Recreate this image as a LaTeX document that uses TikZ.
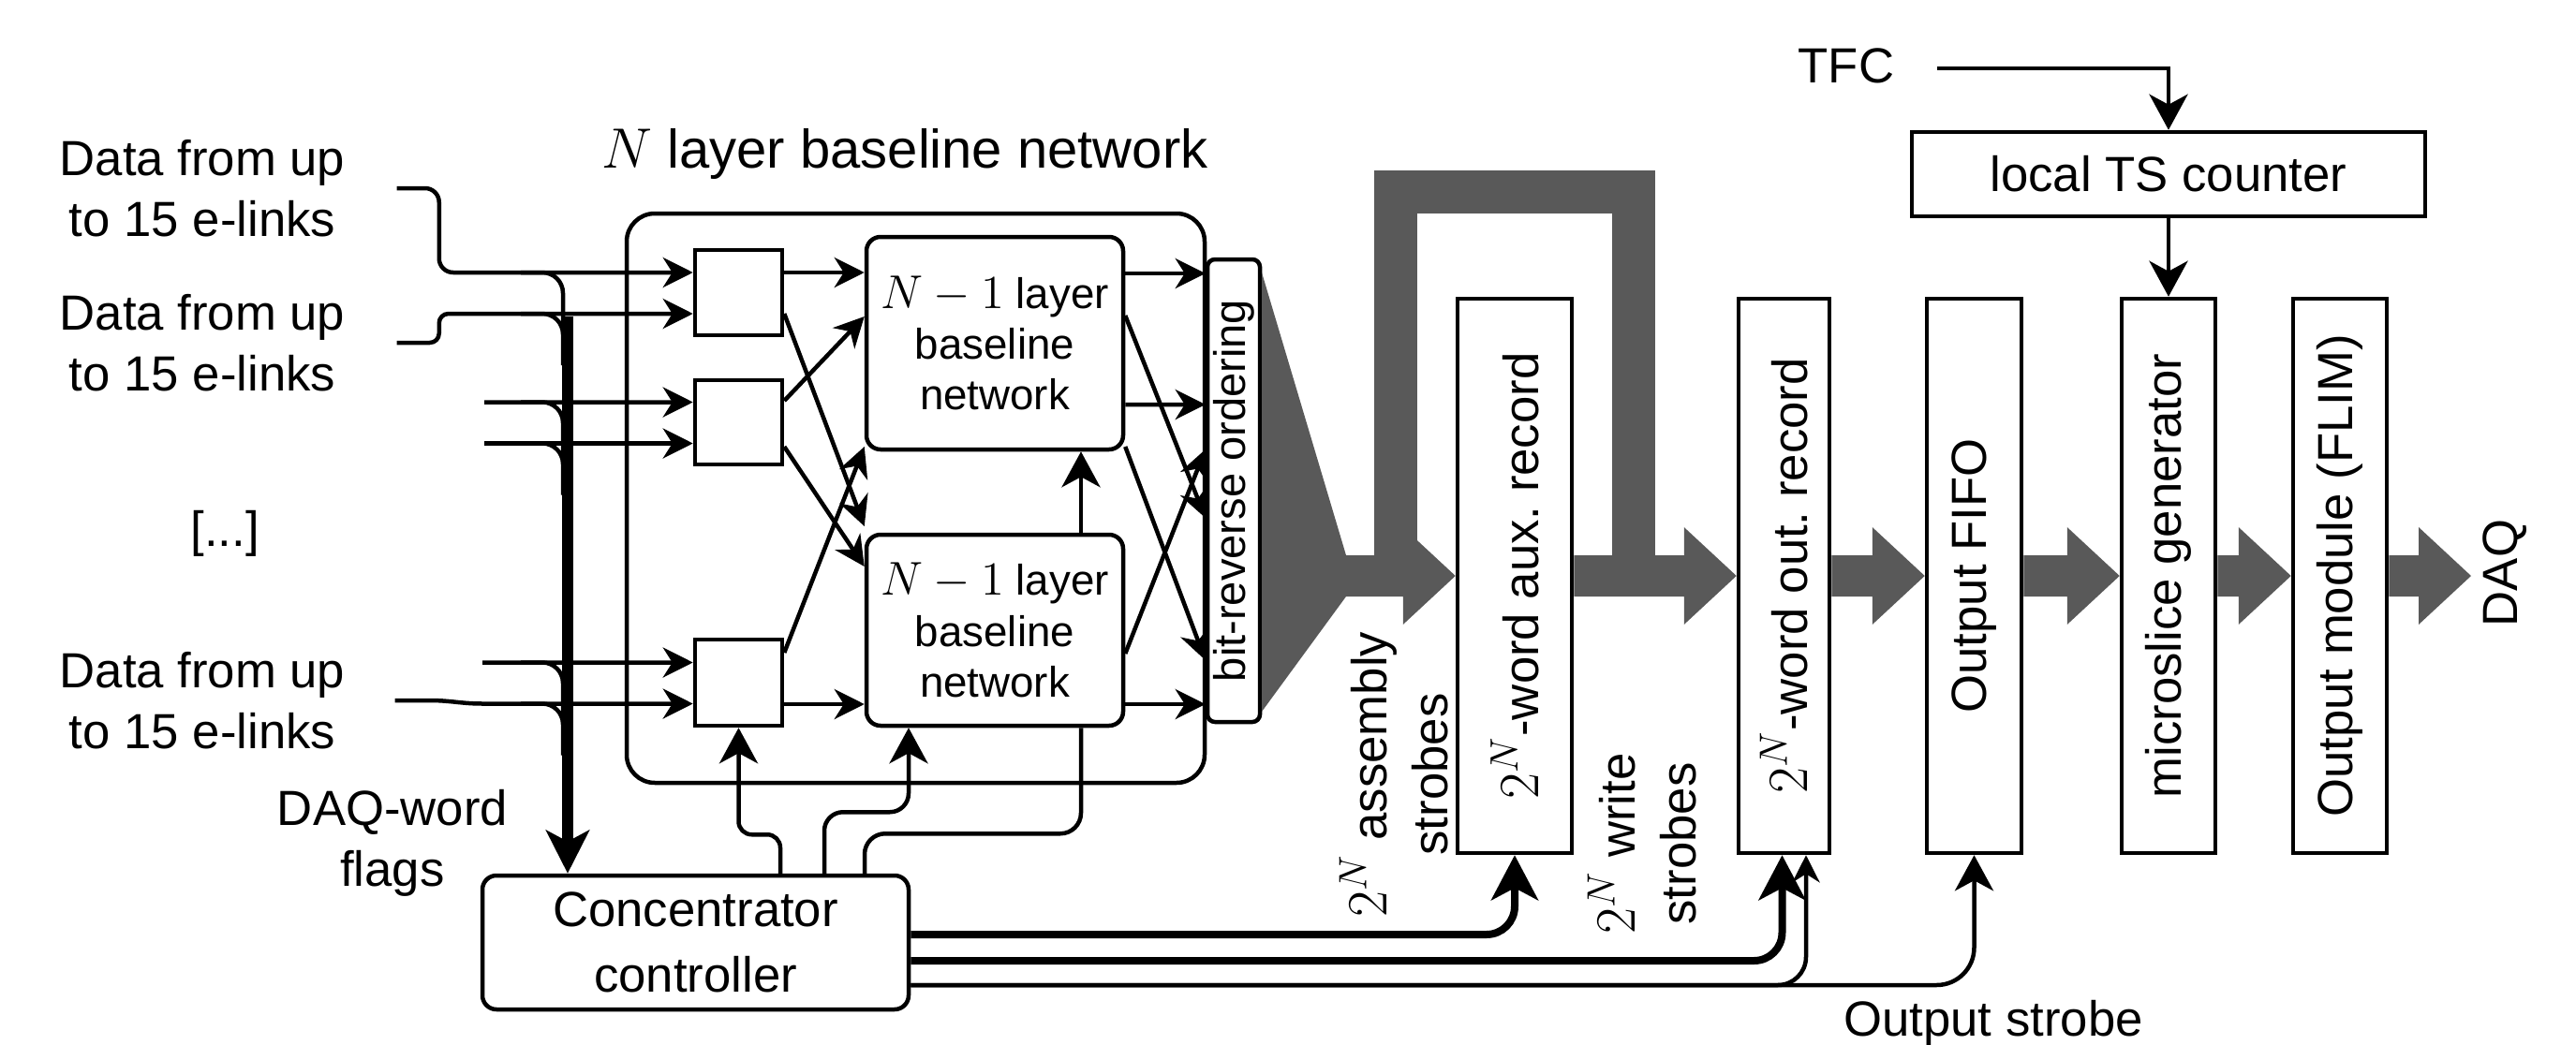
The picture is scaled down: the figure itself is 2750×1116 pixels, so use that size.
\documentclass[tikz,border=0pt]{standalone}
\usepackage[no-math]{fontspec}
\setmainfont{Liberation Sans}
\usetikzlibrary{arrows.meta,calc}
\definecolor{flowgray}{RGB}{89,89,89}
% wide grey data-flow arrow from #1 to #2 (horizontal, at the height of #2)
\newcommand{\flowarrow}[2]{%
  \fill[flowgray] let \p1=(#1), \p2=(#2) in
    (\x1,\y2+2.2mm) -- (\x2-5.6mm,\y2+2.2mm) -- (\x2-5.6mm,\y2+5.2mm) --
    (\x2,\y2) -- (\x2-5.6mm,\y2-5.2mm) -- (\x2-5.6mm,\y2-2.2mm) --
    (\x1,\y2-2.2mm) -- cycle;}
% formulas are set a little larger than the surrounding text
\newcommand{\subnetlabel}{{\fontsize{15}{15.4}\selectfont$N-1$} layer\\baseline\\network}
\newcommand{\twoN}{{\fontsize{17.3}{18}\selectfont$2^N$}}
\begin{document}
\begin{tikzpicture}[x=0.1mm, y=-0.1mm,
  font=\fontsize{15}{18.5}\selectfont,
  line width=0.45mm,
  box/.style={draw, line width=0.45mm, inner sep=0pt, align=center},
  rbox/.style={box, rounded corners=1.5mm},
  lbl/.style={inner sep=0pt, align=center},
  small/.style={font=\fontsize{13}{15.4}\selectfont},
  arr/.style={-{Stealth[length=3.2mm,width=3.2mm,inset=1mm]}},
  carr/.style={-{Stealth[length=3.8mm,width=4.1mm,inset=1.1mm]}},
  sarr/.style={-{Stealth[length=2.9mm,width=2.9mm,inset=0.9mm]}},
  bus/.style={line width=1.2mm, -{Stealth[length=4.6mm,width=4.6mm,inset=1.2mm]}},
  strobe/.style={line width=0.8mm, rounded corners=3mm,
                 -{Stealth[length=4.8mm,width=5mm,inset=1.3mm]}},
  flowline/.style={draw=flowgray, line width=4.6mm}
]
\useasboundingbox (0,0) rectangle (2750,1116);

% ---------------- baseline network ----------------
\node[rbox, rounded corners=3mm, minimum width=61.7mm, minimum height=60.8mm] (net) at (977.5,532) {};
\node[lbl, font=\fontsize{16.5}{20}\selectfont] (title) at (966,165) {$N$ layer baseline network};

\node[box, minimum width=9.3mm, minimum height=9.1mm] (sw1) at (788.5,312.5) {};
\node[box, minimum width=9.3mm, minimum height=9.0mm] (sw2) at (788.5,451) {};
\node[box, minimum width=9.3mm, minimum height=9.2mm] (sw3) at (788.5,729) {};

\node[rbox, small, minimum width=27.4mm, minimum height=22.7mm] (up) at (1062,366.5) {\subnetlabel};
\node[rbox, small, minimum width=27.4mm, minimum height=20.4mm] (lo) at (1062,673) {\subnetlabel};

\node[box, rounded corners=0.8mm, minimum width=5.6mm, minimum height=49.4mm] (brev) at (1317,524) {};
\node[lbl, rotate=90, font=\fontsize{13.4}{15}\selectfont] (brevt) at (brev) {bit-reverse ordering};

% ---------------- record / output chain ----------------
\node[box, minimum width=12.2mm, minimum height=59.2mm] (aux) at (1617,615) {};
\node[lbl, rotate=90] (auxt) at (aux) {\twoN-word aux.\ record};
\node[box, minimum width=9.7mm, minimum height=59.2mm] (outrec) at (1904.5,615) {};
\node[lbl, rotate=90] (outrect) at (outrec) {\twoN-word out.\ record};
\node[box, minimum width=10.1mm, minimum height=59.2mm] (fifo) at (2107.5,615) {};
\node[lbl, rotate=90] (fifot) at (fifo) {Output FIFO};
\node[box, minimum width=10mm, minimum height=59.2mm] (micro) at (2315,615) {};
\node[lbl, rotate=90] (microt) at (micro) {microslice generator};
\node[box, minimum width=10mm, minimum height=59.2mm] (flim) at (2498,615) {};
\node[lbl, rotate=90] (flimt) at (flim) {Output module (FLIM)};
\node[box, minimum width=54.8mm, minimum height=9mm] (ts) at (2315,186) {local TS counter};

\node[rbox, minimum width=45.5mm, minimum height=14.3mm, font=\fontsize{15}{19.9}\selectfont]
  (conc) at (742.5,1006.5) {Concentrator\\controller};

% ---------------- labels ----------------
\node[lbl] (lab1) at (216,201) {Data from up\\to 15 e-links};
\node[lbl] (lab2) at (216,366) {Data from up\\to 15 e-links};
\node[lbl] (lab3) at (216,748) {Data from up\\to 15 e-links};
\node[lbl] (dots) at (240,570) {[...]};
\node[lbl] (flags) at (419,900) {DAQ-word\\flags};
\node[lbl] (tfc) at (1971,70) {TFC};
\node[lbl, rotate=90] (asm) at (1488,827) {\twoN\ assembly\\strobes};
\node[lbl, rotate=90] (wrt) at (1753,901) {\twoN\ write\\strobes};
\node[lbl, anchor=west] (ostr) at (1966,1093) {Output strobe};
\node[lbl, rotate=90] (daq) at (2674,612) {DAQ};

% ---------------- grey data path ----------------
\fill[flowgray] (1347,291) -- (1437,593) -- (1437,637) -- (1347,760) -- cycle;
\coordinate (fun) at (1437,615);
\draw[flowline] (1490,615) -- (1490,205) -- (1744,205) -- (1744,615);
\flowarrow{fun}{aux.west}
\flowarrow{aux.east}{outrec.west}
\flowarrow{outrec.east}{fifo.west}
\flowarrow{fifo.east}{micro.west}
\flowarrow{micro.east}{flim.west}
\coordinate (daqin) at (2638,615);
\flowarrow{flim.east}{daqin}

% ---------------- inputs ----------------
\coordinate (r3) at (517,429.5);
\coordinate (r4) at (517,473.5);
\coordinate (r5) at (515,707.5);
\draw[arr, rounded corners=1.5mm] ([xshift=5.3mm]lab1.east) -| ($(sw1.west)+(-271,-21.5)$) -- ($(sw1.west)+(0,-21.5)$);
\draw[arr, rounded corners=1mm] ([xshift=5.3mm]lab2.east) -| ($(sw1.west)+(-271,22.5)$) -- ($(sw1.west)+(0,22.5)$);
\draw[arr] (r3) -- ($(sw2.west)+(0,-21.5)$);
\draw[arr] (r4) -- ($(sw2.west)+(0,22.5)$);
\draw[arr] (r5) -- ($(sw3.west)+(0,-21.5)$);
\draw[arr] ([xshift=5.1mm]lab3.east) -- ++(37,0) to[out=0,in=180] ($(sw3.west)+(-225,22.5)$) -- ($(sw3.west)+(0,22.5)$);

% taps of every input into the flag bus
\foreach \ry in {291,335,429.5,473.5,707.5,751.5}
  \draw[rounded corners=2.2mm] (556,\ry) -- (601,\ry) -- (601,\ry+55);
\coordinate (bustop) at (606,338);
\draw[bus] (bustop) -- (bustop |- conc.north);

% ---------------- switch stage to sub-networks ----------------
\draw[arr] ($(sw1.east)+(0,-21.5)$) -- ($(up.west)+(0,-75.5)$);
\draw[arr] ($(sw1.east)+(0,22.5)$) -- ($(lo.west)+(0,-111)$);
\draw[arr] ($(sw2.east)+(0,-23)$) -- ($(up.west)+(0,-28.5)$);
\draw[arr] ($(sw2.east)+(0,26)$) -- ($(lo.west)+(0,-68)$);
\draw[arr] ($(sw3.east)+(0,-32)$) -- ($(up.west)+(0,110.5)$);
\draw[arr] ($(sw3.east)+(0,23)$) -- ($(lo.west)+(0,79)$);

% ---------------- sub-networks to bit-reverse ordering ----------------
\draw[arr] ($(up.east)+(0,-74.5)$) -- ($(brev.west)+(0,-232)$);
\draw[arr] ($(up.east)+(0,-29.5)$) -- ($(brev.west)+(0,29)$);
\draw[arr] ($(up.east)+(0,65.5)$) -- ($(brev.west)+(0,-92)$);
\draw[arr] ($(up.east)+(0,110.5)$) -- ($(brev.west)+(0,181)$);
\draw[arr] ($(lo.east)+(0,25)$) -- ($(brev.west)+(0,-44)$);
\draw[arr] ($(lo.east)+(0,79)$) -- ($(brev.west)+(0,228)$);

% ---------------- controller signals ----------------
\draw[carr] ($(lo.north)+(92,0)$) -- ($(up.south)+(92,0)$);
\draw[carr, rounded corners=1.4mm] ($(conc.north)+(90.5,0)$) |- ($(sw3.south)+(0,114)$) -- (sw3.south);
\draw[carr, rounded corners=2mm] ($(conc.north)+(137.5,0)$) |- ($(lo.south)+(-92,90)$) -- ($(lo.south)+(-92,0)$);
\draw[rounded corners=2.2mm] ($(conc.north)+(180.5,0)$) |- ($(lo.south)+(92,113)$) -- ($(lo.south)+(92,0)$);

\draw[strobe] ($(conc.east)+(0,-8.5)$) -| (aux.south);
\draw[strobe] ($(conc.east)+(0,19.5)$) -| ($(outrec.south)+(-2,0)$);
\draw[sarr, rounded corners=3mm] ($(conc.east)+(0,45.5)$) -| ($(outrec.south)+(23.5,0)$);
\draw[carr, rounded corners=4mm] ($(conc.east)+(0,45.5)$) -| (fifo.south);

% ---------------- timing ----------------
\draw[carr] ([xshift=4.3mm,yshift=-0.3mm]tfc.east) -| (ts.north);
\draw[carr] (ts.south) -- (micro.north);
\end{tikzpicture}
\end{document}
